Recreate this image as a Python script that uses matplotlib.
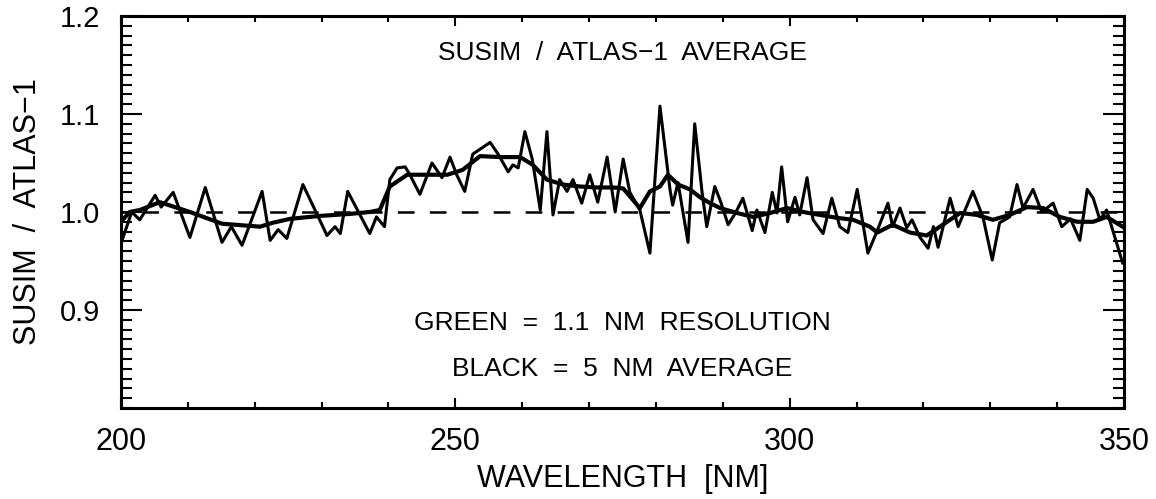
import matplotlib
matplotlib.use("Agg")
import matplotlib.pyplot as plt
from matplotlib.ticker import MultipleLocator

plt.rcParams['font.family'] = ['Liberation Sans', 'DejaVu Sans']
plt.rcParams['lines.scale_dashes'] = False

# 1.1 nm resolution ratio
waveFine = [200.0, 201.6, 202.8, 205.1, 206.0, 207.8, 210.3, 212.6, 215.1, 216.5,
            218.1, 221.1, 222.3, 223.5, 224.8, 227.2, 229.5, 230.8, 232.0, 232.8,
            233.9, 237.2, 238.2, 239.4, 240.2, 241.3, 242.5, 243.2, 244.7, 246.5,
            248.0, 249.2, 250.2, 251.4, 252.6, 255.2, 256.4, 257.9, 258.6, 259.4,
            260.4, 261.5, 262.7, 263.7, 264.6, 265.6, 266.7, 267.6, 268.9, 270.1,
            271.3, 272.7, 273.9, 275.1, 276.1, 277.6, 279.1, 280.6, 282.1, 282.5,
            283.3, 284.8, 285.8, 286.9, 287.6, 288.8, 289.6, 290.8, 291.9, 293.0,
            294.4, 295.1, 296.3, 297.4, 298.1, 298.8, 299.7, 300.8, 301.5, 302.6,
            303.5, 305.0, 306.3, 307.5, 308.7, 310.1, 311.7, 313.1, 314.7, 315.4,
            316.5, 317.5, 318.3, 319.5, 320.7, 321.5, 322.2, 324.0, 325.2, 327.4,
            328.9, 330.3, 331.4, 332.9, 334.0, 334.9, 336.4, 337.7, 339.4, 340.7,
            342.0, 343.4, 344.5, 345.4, 346.4, 347.4, 349.8]
ratioFine = [0.968, 1.000, 0.992, 1.017, 1.005, 1.020, 0.974, 1.025, 0.969, 0.985,
             0.966, 1.021, 0.971, 0.982, 0.973, 1.028, 0.995, 0.976, 0.985, 0.978,
             1.021, 0.978, 0.995, 0.985, 1.033, 1.045, 1.046, 1.038, 1.018, 1.050,
             1.035, 1.056, 1.038, 1.021, 1.059, 1.071, 1.059, 1.041, 1.048, 1.045,
             1.082, 1.054, 1.002, 1.082, 0.997, 1.033, 1.021, 1.033, 1.009, 1.038,
             1.010, 1.056, 1.000, 1.054, 1.020, 1.002, 0.958, 1.108, 1.023, 1.007,
             1.030, 0.969, 1.090, 1.020, 0.985, 1.026, 1.012, 0.987, 0.999, 1.014,
             0.981, 1.002, 0.979, 1.020, 0.999, 1.046, 0.990, 1.015, 0.997, 1.035,
             0.992, 0.978, 1.014, 0.985, 0.979, 1.023, 0.958, 0.981, 1.009, 0.985,
             1.004, 0.984, 0.992, 0.974, 0.963, 0.985, 0.964, 1.014, 0.985, 1.021,
             0.995, 0.951, 0.989, 0.995, 1.028, 1.004, 1.023, 1.000, 1.009, 0.985,
             0.993, 0.971, 1.023, 1.014, 0.992, 1.002, 0.948]

# 5 nm average
waveAvg = [200.0, 201.3, 202.8, 205.8, 210.3, 215.1, 220.8, 222.7, 225.3, 229.8,
           234.2, 237.2, 238.7, 240.2, 242.8, 246.2, 248.8, 251.1, 253.7, 256.7,
           259.7, 261.6, 263.7, 266.1, 268.6, 271.2, 273.6, 275.1, 276.6, 277.6,
           279.1, 280.6, 281.8, 283.3, 285.1, 286.6, 288.1, 289.6, 292.1, 294.5,
           297.1, 299.6, 302.0, 304.5, 307.1, 309.5, 312.0, 313.1, 315.4, 318.0,
           320.5, 322.9, 325.5, 328.0, 330.4, 332.9, 335.5, 337.9, 340.4, 343.0,
           345.4, 347.4, 349.8]
ratioAvg = [0.990, 1.000, 1.002, 1.010, 1.000, 0.988, 0.985, 0.989, 0.993, 0.996,
            0.998, 1.000, 1.002, 1.026, 1.038, 1.038, 1.038, 1.043, 1.057, 1.056,
            1.056, 1.048, 1.033, 1.028, 1.026, 1.025, 1.025, 1.024, 1.012, 1.004,
            1.021, 1.026, 1.038, 1.028, 1.023, 1.015, 1.009, 1.004, 0.999, 0.995,
            0.999, 1.004, 1.000, 0.997, 0.994, 0.992, 0.985, 0.979, 0.987, 0.979,
            0.976, 0.987, 0.999, 0.997, 0.992, 0.997, 1.005, 1.004, 0.995, 0.990,
            0.990, 0.995, 0.985]

xRange = [200, 350]
yRange = [0.8, 1.2]
yTicks = [0.9, 1.0, 1.1, 1.2]
xTicks = [200, 250, 300, 350]

fig = plt.figure(figsize=(11.56, 4.99), dpi=100)
ax = fig.add_axes([0.1047, 0.1824, 0.8676, 0.7856])

ax.plot(xRange, [1.0, 1.0], color="black", linewidth=1.8, linestyle=(8, (12, 11)))
ax.plot(waveFine, ratioFine, color="black", linewidth=2.2, solid_joinstyle="round")
ax.plot(waveAvg, ratioAvg, color="black", linewidth=3.0, solid_joinstyle="round")

ax.set_xlim(xRange)
ax.set_ylim(yRange)
ax.set_xticks(xTicks)
ax.set_yticks(yTicks)
ax.set_yticklabels(["{:.1f}".format(v) for v in yTicks])
ax.xaxis.set_minor_locator(MultipleLocator(10))
ax.yaxis.set_minor_locator(MultipleLocator(0.01))
ax.tick_params(axis="both", which="both", direction="in", top=True, right=True, width=1.5, colors="black")
ax.tick_params(axis="y", which="major", length=15, labelsize=21, pad=15)
ax.tick_params(axis="y", which="minor", length=8)
ax.tick_params(axis="x", which="major", length=7, labelsize=22, pad=14)
ax.tick_params(axis="x", which="minor", length=4)
for s in ax.spines.values():
    s.set_linewidth(2.2)

ax.set_xlabel("WAVELENGTH  [NM]", fontsize=22, va="center")
ax.xaxis.set_label_coords(0.5, -0.181)
ax.set_ylabel("SUSIM  /  ATLAS\u22121", fontsize=22, va="center")
ax.yaxis.set_label_coords(-0.0927, 0.5)

ax.text(275, 1.162, "SUSIM  /  ATLAS\u22121  AVERAGE", fontsize=19, ha="center", va="center")
ax.text(275, 0.887, "GREEN  =  1.1  NM  RESOLUTION", fontsize=19, ha="center", va="center")
ax.text(275, 0.840, "BLACK  =  5  NM  AVERAGE", fontsize=19, ha="center", va="center")

plt.savefig("out.png", dpi=100)
